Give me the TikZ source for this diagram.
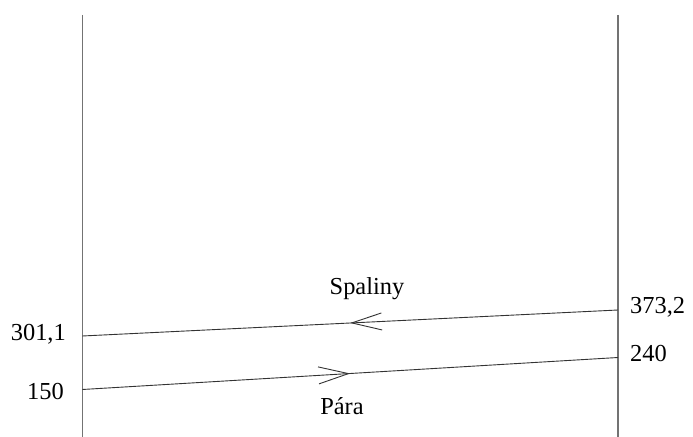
\documentclass[tikz,border=0pt]{standalone}
\usepackage{fontspec}
\setmainfont{Liberation Serif}
\usetikzlibrary{arrows.meta,decorations.markings}
\begin{document}
\begin{tikzpicture}[x=1bp,y=-1bp,
  wall/.style={draw=black!55,line width=1.2bp},
  flow/.style={draw=black!80,line width=0.9bp,
    postaction={decorate},
    decoration={markings,mark=at position 0.5 with {\arrow{Straight Barb[length=30bp,width=17bp,line width=0.9bp]}}}},
  lbl/.style={font=\fontsize{24.5}{29}\selectfont,inner sep=0pt}]
\useasboundingbox (0,0) rectangle (693,437);
% walls
\coordinate (lt) at (82.3,15);
\coordinate (lb) at (82.3,437);
\coordinate (rt) at (618,15);
\coordinate (rb) at (618,437);
\draw[wall] (lt) -- (lb);
\draw[wall] (rt) -- (rb);
% flow end points
\coordinate (sL) at (82.3,336);
\coordinate (sR) at (618,310);
\coordinate (pL) at (82.3,389.5);
\coordinate (pR) at (618,357.5);
\draw[flow] (sR) -- (sL);
\draw[flow] (pL) -- (pR);
% labels
\node[lbl,anchor=east] (t1) at (66,334) {301,1};
\node[lbl,anchor=east] (t2) at (64,392) {150};
\node[lbl,anchor=west] (t3) at (630,307) {373,2};
\node[lbl,anchor=west] (t4) at (630,354) {240};
\node[lbl] (sp) at (367,289) {Spaliny};
\node[lbl] (pa) at (342,406) {Pára};
\end{tikzpicture}
\end{document}
